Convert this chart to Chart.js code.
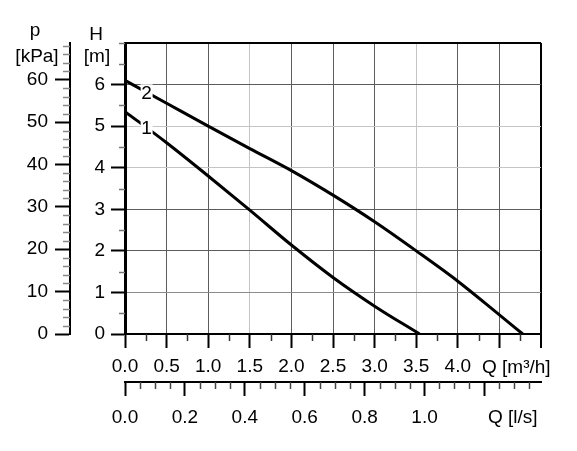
<!DOCTYPE html>
<html>
<head>
<meta charset="utf-8">
<script src="https://cdn.jsdelivr.net/npm/chart.js@4.4.1/dist/chart.umd.min.js"></script>
<style>
  html, body { margin: 0; padding: 0; background: #fff; }
</style>
</head>
<body>
<canvas id="pumpChart" width="577" height="451"></canvas>
<script>
/* ---------- DATA ---------- */
const curve1Flow = [0, 0.5, 1.0, 1.5, 2.0, 2.5, 3.0, 3.54];
const curve1Head = [5.35, 4.6, 3.8, 2.98, 2.14, 1.36, 0.67, 0];
const curve2Flow = [0, 0.5, 1.0, 1.5, 2.0, 2.5, 3.0, 3.5, 4.0, 4.5, 4.78];
const curve2Head = [6.1, 5.55, 5.0, 4.46, 3.93, 3.34, 2.70, 2.0, 1.27, 0.46, 0];
const curveNames = ["1", "2"];
const curveLabelFlow = 0.26;

const flowTicks = [0, 0.5, 1.0, 1.5, 2.0, 2.5, 3.0, 3.5, 4.0, 4.5, 5.0];
const flowLabels = ["0.0", "0.5", "1.0", "1.5", "2.0", "2.5", "3.0", "3.5", "4.0", "", ""];
const litreTicks = [0, 0.2, 0.4, 0.6, 0.8, 1.0, 1.2];
const litreLabels = ["0.0", "0.2", "0.4", "0.6", "0.8", "1.0", ""];
const headTicks = [0, 1, 2, 3, 4, 5, 6, 7];
const headLabels = ["0", "1", "2", "3", "4", "5", "6", ""];
const pressureTicks = [0, 10, 20, 30, 40, 50, 60];
const pressureLabels = ["0", "10", "20", "30", "40", "50", "60"];

const FLOW_MAX = 5;          // m3/h
const HEAD_MAX = 7;          // m
const M3H_PER_LS = 3.6;
const KPA_PER_M = 9.80665;

/* ---------- HELPERS ---------- */
const FONT = { family: "'Liberation Sans', Arial, sans-serif", size: 19 };
const FONT_CSS = "19px 'Liberation Sans', Arial, sans-serif";

function fixedTicks(values) {
  return function (scale) {
    scale.ticks = values.map(v => ({ value: v }));
  };
}

function toPoints(xs, ys) {
  return xs.map((x, i) => ({ x: x, y: ys[i] }));
}

function xGridColor(ctx) {
  const v = ctx.tick.value;
  if (v === FLOW_MAX) return "#000";
  if (v === 1.5 || v === 3.5) return "#c4c4c4";
  return "#5c5c5c";
}

function yGridColor(ctx) {
  const v = ctx.tick.value;
  if (v === HEAD_MAX) return "#000";
  if (v === 4 || v === 5) return "#c4c4c4";
  if (v === 1) return "#8c8c8c";
  return "#5c5c5c";
}

/* ---------- PLUGINS ---------- */
const minorTicks = {
  id: "minorTicks",
  afterDraw(chart) {
    const ctx = chart.ctx;
    const s = chart.scales;
    ctx.save();
    ctx.lineWidth = 1.5;

    function bottomTicks(scale, step, majorStep, max, len, color) {
      ctx.strokeStyle = color;
      for (let v = step; v < max + 1e-9; v += step) {
        if (Math.abs(v / majorStep - Math.round(v / majorStep)) < 1e-6) continue;
        const px = Math.round(scale.getPixelForValue(v)) + 0.5;
        ctx.beginPath();
        ctx.moveTo(px, scale.top);
        ctx.lineTo(px, scale.top + len);
        ctx.stroke();
      }
    }
    function leftTicks(scale, step, majorStep, max, len, color) {
      ctx.strokeStyle = color;
      for (let v = step; v < max + 1e-9; v += step) {
        if (Math.abs(v / majorStep - Math.round(v / majorStep)) < 1e-6 && v < max - 1e-6) continue;
        const py = Math.round(scale.getPixelForValue(v)) + 0.5;
        ctx.beginPath();
        ctx.moveTo(scale.right, py);
        ctx.lineTo(scale.right - len, py);
        ctx.stroke();
      }
    }

    bottomTicks(s.x, 0.25, 0.5, FLOW_MAX, 7, "#333");
    bottomTicks(s.x2, 0.05, 0.2, FLOW_MAX / M3H_PER_LS, 7, "#444");
    leftTicks(s.y, 0.5, 1, HEAD_MAX, 6, "#777");
    leftTicks(s.p, 2, 10, 68, 7, "#888");
    ctx.restore();
  }
};

const axisTitles = {
  id: "axisTitles",
  afterDraw(chart) {
    const ctx = chart.ctx;
    const ca = chart.chartArea;
    ctx.save();
    ctx.fillStyle = "#000";
    ctx.font = FONT_CSS;
    ctx.textBaseline = "alphabetic";
    ctx.textAlign = "center";
    ctx.fillText("p", ca.left - 90, ca.top - 7);
    ctx.fillText("[kPa]", ca.left - 88, ca.top + 19);
    ctx.fillText("H", ca.left - 29, ca.top - 3);
    ctx.fillText("[m]", ca.left - 28, ca.top + 19);
    ctx.textAlign = "left";
    ctx.fillText("Q [m\u00b3/h]", ca.right - 59, ca.bottom + 39);
    ctx.fillText("Q [l/s]", ca.right - 53, ca.bottom + 89);
    ctx.restore();
  }
};

const curveLabels = {
  id: "curveLabels",
  afterDatasetsDraw(chart) {
    const ctx = chart.ctx;
    const xs = chart.scales.x, ys = chart.scales.y;
    ctx.save();
    ctx.font = FONT_CSS;
    ctx.textAlign = "center";
    ctx.textBaseline = "middle";
    chart.data.datasets.forEach((ds, i) => {
      const pts = ds.data;
      let h = pts[0].y;
      for (let k = 1; k < pts.length; k++) {
        if (pts[k].x >= curveLabelFlow) {
          const t = (curveLabelFlow - pts[k - 1].x) / (pts[k].x - pts[k - 1].x);
          h = pts[k - 1].y + t * (pts[k].y - pts[k - 1].y);
          break;
        }
      }
      const px = xs.getPixelForValue(curveLabelFlow);
      const py = ys.getPixelForValue(h);
      ctx.fillStyle = "#fff";
      ctx.fillRect(px - 6, py - 8, 12, 17);
      ctx.fillStyle = "#000";
      ctx.fillText(curveNames[i], px, py + 1);
    });
    ctx.restore();
  }
};

/* ---------- CHART ---------- */
document.addEventListener("DOMContentLoaded", function () {
  const ctx = document.getElementById("pumpChart").getContext("2d");

  new Chart(ctx, {
    type: "line",
    data: {
      datasets: [
        {
          label: curveNames[0],
          data: toPoints(curve1Flow, curve1Head),
          borderColor: "#000",
          borderWidth: 3,
          pointRadius: 0,
          cubicInterpolationMode: "monotone",
          xAxisID: "x",
          yAxisID: "y"
        },
        {
          label: curveNames[1],
          data: toPoints(curve2Flow, curve2Head),
          borderColor: "#000",
          borderWidth: 3,
          pointRadius: 0,
          cubicInterpolationMode: "monotone",
          xAxisID: "x",
          yAxisID: "y"
        }
      ]
    },
    options: {
      responsive: false,
      animation: false,
      layout: { padding: { left: 0, top: 43, right: 36, bottom: 0 } },
      plugins: {
        legend: { display: false },
        tooltip: { enabled: false }
      },
      scales: {
        x: {
          type: "linear",
          position: "bottom",
          weight: 0,
          min: 0,
          max: FLOW_MAX,
          afterBuildTicks: fixedTicks(flowTicks),
          afterFit: s => { s.height = 48; },
          ticks: {
            font: FONT, color: "#000", padding: 7, maxRotation: 0, autoSkip: false,
            callback: (v, i) => flowLabels[i]
          },
          grid: {
            color: xGridColor,
            lineWidth: c => (c.tick.value === FLOW_MAX ? 2 : 1),
            tickLength: 14, tickColor: "#000", tickWidth: 2
          },
          border: { color: "#000", width: 2 }
        },
        x2: {
          type: "linear",
          position: "bottom",
          weight: 1,
          min: 0,
          max: FLOW_MAX / M3H_PER_LS,
          afterBuildTicks: fixedTicks(litreTicks),
          afterFit: s => { s.height = 69; },
          ticks: {
            font: FONT, color: "#000", padding: 10, maxRotation: 0, autoSkip: false,
            callback: (v, i) => litreLabels[i]
          },
          grid: { drawOnChartArea: false, tickLength: 14, tickColor: "#000", tickWidth: 2 },
          border: { color: "#000", width: 2 }
        },
        y: {
          type: "linear",
          position: "left",
          weight: 0,
          min: 0,
          max: HEAD_MAX,
          afterBuildTicks: fixedTicks(headTicks),
          afterFit: s => { s.width = 55; },
          ticks: {
            font: FONT, color: "#000", padding: 6,
            callback: (v, i) => headLabels[i]
          },
          grid: {
            color: yGridColor,
            lineWidth: c => (c.tick.value === HEAD_MAX ? 2 : 1),
            tickLength: 14,
            tickColor: c => (c.tick.value === HEAD_MAX ? "rgba(0,0,0,0)" : "#000"),
            tickWidth: 2
          },
          border: { color: "#000", width: 3 }
        },
        p: {
          type: "linear",
          position: "left",
          weight: 1,
          min: 0,
          max: HEAD_MAX * KPA_PER_M,
          afterBuildTicks: fixedTicks(pressureTicks),
          afterFit: s => { s.width = 70; },
          ticks: {
            font: FONT, color: "#000", padding: 7,
            callback: (v, i) => pressureLabels[i]
          },
          grid: { drawOnChartArea: false, tickLength: 15, tickColor: "#000", tickWidth: 2 },
          border: { color: "#000", width: 2 }
        }
      }
    },
    plugins: [minorTicks, axisTitles, curveLabels]
  });
});
</script>
</body>
</html>
